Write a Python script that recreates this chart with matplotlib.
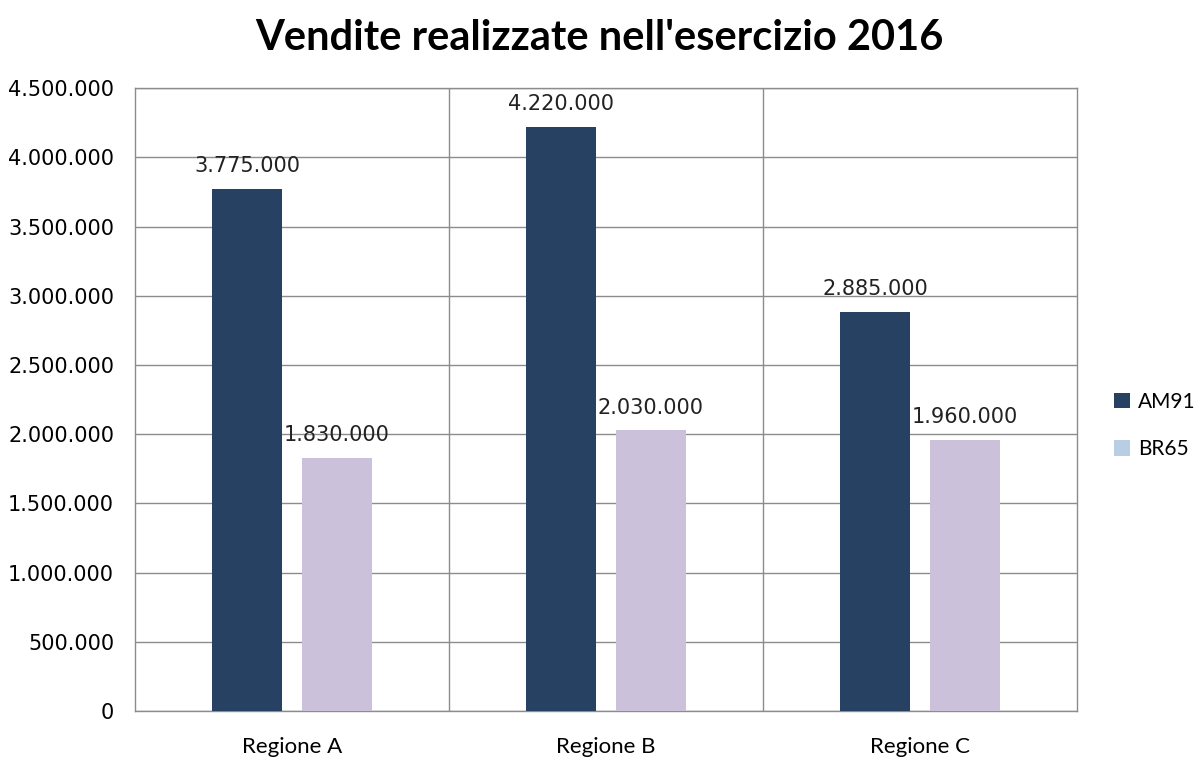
import matplotlib.pyplot as plt
import numpy as np
from matplotlib.ticker import FuncFormatter, MultipleLocator
from matplotlib.patches import Patch

categories = ["Regione A", "Regione B", "Regione C"]
am91 = [3775000, 4220000, 2885000]
br65 = [1830000, 2030000, 1960000]
series_names = ["AM91", "BR65"]

fig = plt.figure(figsize=(11.98, 7.6), dpi=100)
ax = fig.add_axes([0.1127, 0.0645, 0.7863, 0.8195])

x = np.arange(len(categories))
w = 0.223
off = 0.142
c_dark = "#264161"
c_light = "#CCC1DA"
ax.bar(x - off, am91, w, color=c_dark, zorder=3)
ax.bar(x + off, br65, w, color=c_light, zorder=3)

def fmt(v, pos=None):
    return f"{int(v):,}".replace(",", ".")

for xi, v in zip(x - off, am91):
    ax.annotate(fmt(v), (xi, v), xytext=(0, 9), textcoords="offset points",
                ha="center", va="bottom", fontsize=15, color="#222222")
for xi, v in zip(x + off, br65):
    ax.annotate(fmt(v), (xi, v), xytext=(0, 9), textcoords="offset points",
                ha="center", va="bottom", fontsize=15, color="#222222")

ax.set_xlim(-0.5, 2.5)
ax.set_ylim(0, 4500000)
ax.yaxis.set_major_locator(MultipleLocator(500000))
ax.yaxis.set_major_formatter(FuncFormatter(fmt))
ax.set_xticks(x)
ax.set_xticklabels(categories, fontsize=16, family="Lato")
ax.tick_params(axis="x", length=0, pad=19)
ax.tick_params(axis="y", length=0, labelsize=15, pad=15)

ax.grid(axis="y", color="#8c8c8c", linewidth=1, zorder=0)
for b in [0.5, 1.5]:
    ax.axvline(b, color="#8c8c8c", linewidth=1, zorder=0)
for s in ["left", "right", "top", "bottom"]:
    ax.spines[s].set_color("#8c8c8c")
    ax.spines[s].set_linewidth(1)

fig.suptitle("Vendite realizzate nell'esercizio 2016", fontsize=30, fontweight="bold",
             family="Lato", y=0.975)

handles = [Patch(facecolor=c_dark), Patch(facecolor="#B9CDE5")]
fig.legend(handles, series_names, loc="center left", bbox_to_anchor=(0.9145, 0.44),
           frameon=False, handlelength=0.75, handleheight=0.75,
           labelspacing=1.3, handletextpad=0.4, prop={"family": "Lato", "size": 15})

fig.savefig("out.png", dpi=100)
